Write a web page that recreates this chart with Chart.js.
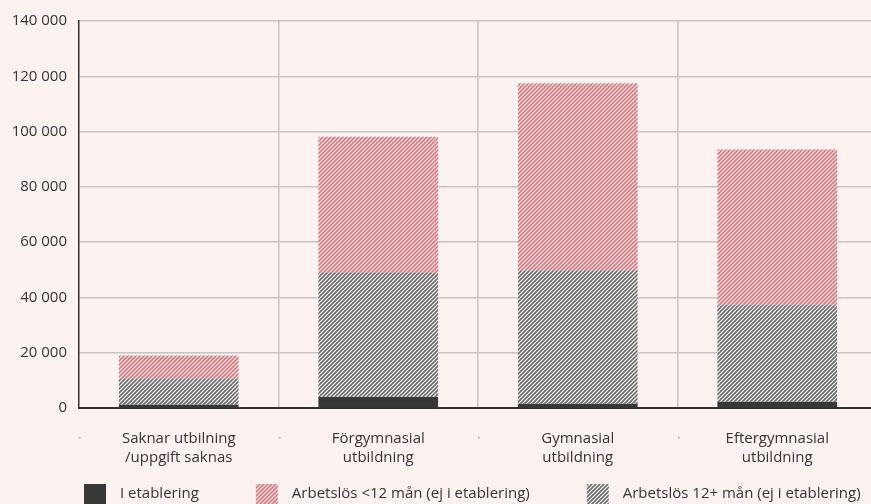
<!DOCTYPE html>
<html lang="sv">
<head>
<meta charset="utf-8">
<script src="https://cdn.jsdelivr.net/npm/chart.js@4/dist/chart.umd.min.js"></script>
<style>
  html, body { margin: 0; padding: 0; background: #fcf3f1; overflow: hidden; }
  #wrap { width: 880px; height: 512px; position: relative; }
</style>
</head>
<body>
<div id="wrap"><canvas id="c"></canvas></div>
<script>
// Utbildningsnivå (kategorier)
const categories = [
  ["Saknar utbilning", "/uppgift saknas"],
  ["Förgymnasial", "utbildning"],
  ["Gymnasial", "utbildning"],
  ["Eftergymnasial", "utbildning"]
];
// Antal personer per grupp
const iEtablering = [1200, 4000, 1500, 2300];
const arbetslosLang = [9500, 44800, 48300, 34900];   // 12+ mån
const arbetslosKort = [8300, 49300, 67700, 56300];   // <12 mån
const seriesLabels = [
  "I etablering",
  "Arbetslös 12+ mån (ej i etablering)",
  "Arbetslös <12 mån (ej i etablering)"
];
const legendOrder = [0, 2, 1];
const yTicks = [0, 20000, 40000, 60000, 80000, 100000, 120000, 140000];

const FONT = "'Open Sans', sans-serif";
const TEXT = '#353535';
const GRID = '#c9c4c2';

function hatch(color) {
  const s = 4;
  const c = document.createElement('canvas');
  c.width = s; c.height = s;
  const g = c.getContext('2d');
  g.fillStyle = '#ffffff';
  g.fillRect(0, 0, s, s);
  g.strokeStyle = color;
  g.lineWidth = 1.6;
  g.beginPath();
  g.moveTo(0, s); g.lineTo(s, 0);
  g.moveTo(-1, 1); g.lineTo(1, -1);
  g.moveTo(s - 1, s + 1); g.lineTo(s + 1, s - 1);
  g.stroke();
  return g.createPattern(c, 'repeat');
}

const fmt = v => String(v).replace(/\B(?=(\d{3})+(?!\d))/g, ' ');

// Small dots marking the category boundaries under the axis
const boundaryDots = {
  id: 'boundaryDots',
  afterDraw(chart) {
    const x = chart.scales.x, ctx = chart.ctx;
    const w = x.getPixelForValue(1) - x.getPixelForValue(0);
    ctx.save();
    ctx.fillStyle = '#a9a5a3';
    for (let i = 0; i < categories.length; i++) {
      const px = x.getPixelForValue(i) - w / 2;
      ctx.fillRect(Math.round(px), chart.chartArea.bottom + 29, 1.5, 1.5);
    }
    ctx.restore();
  }
};

// Legend row along the bottom
const bottomLegend = {
  id: 'bottomLegend',
  afterDraw(chart) {
    const ctx = chart.ctx;
    ctx.save();
    ctx.font = '15px ' + FONT;
    ctx.textBaseline = 'middle';
    ctx.fillStyle = TEXT;
    let x = chart.chartArea.left + 5;
    const top = chart.chartArea.bottom + 76;
    legendOrder.forEach(i => {
      const ds = chart.data.datasets[i];
      ctx.fillStyle = ds.backgroundColor;
      ctx.fillRect(x, top, 22, 20);
      ctx.fillStyle = TEXT;
      ctx.fillText(ds.label, x + 36, top + 10);
      x += 36 + ctx.measureText(ds.label).width + 57;
    });
    ctx.restore();
  }
};

new Chart(document.getElementById('c'), {
  type: 'bar',
  data: {
    labels: categories,
    datasets: [
      { label: seriesLabels[0], data: iEtablering, backgroundColor: '#383838' },
      { label: seriesLabels[1], data: arbetslosLang, backgroundColor: hatch('#6b6b6b') },
      { label: seriesLabels[2], data: arbetslosKort, backgroundColor: hatch('#ee6b74') }
    ]
  },
  options: {
    responsive: true,
    maintainAspectRatio: false,
    animation: false,
    datasets: { bar: { barPercentage: 0.6, categoryPercentage: 1, borderWidth: 0 } },
    layout: { padding: { top: 20, right: 3, bottom: 40, left: 0 } },
    plugins: { legend: { display: false }, tooltip: { enabled: false } },
    scales: {
      x: {
        stacked: true,
        afterFit: s => { s.height = 64; },
        grid: {
          offset: true,
          drawTicks: false,
          lineWidth: 1.5,
          color: c => c.index === 0 ? 'rgba(0,0,0,0)' : GRID
        },
        border: { color: '#333333', width: 2 },
        ticks: { padding: 21, color: TEXT, font: { family: FONT, size: 15, lineHeight: 1.27 }, maxRotation: 0 }
      },
      y: {
        stacked: true,
        min: 0,
        max: 140000,
        afterFit: s => { s.width = 79; },
        afterBuildTicks: s => { s.ticks = yTicks.map(v => ({ value: v })); },
        grid: { drawTicks: false, lineWidth: 1.5, color: GRID },
        border: { color: '#333333', width: 1.5 },
        ticks: { padding: 12, color: TEXT, font: { family: FONT, size: 15 }, callback: v => fmt(v) }
      }
    }
  },
  plugins: [boundaryDots, bottomLegend]
});
</script>
</body>
</html>
